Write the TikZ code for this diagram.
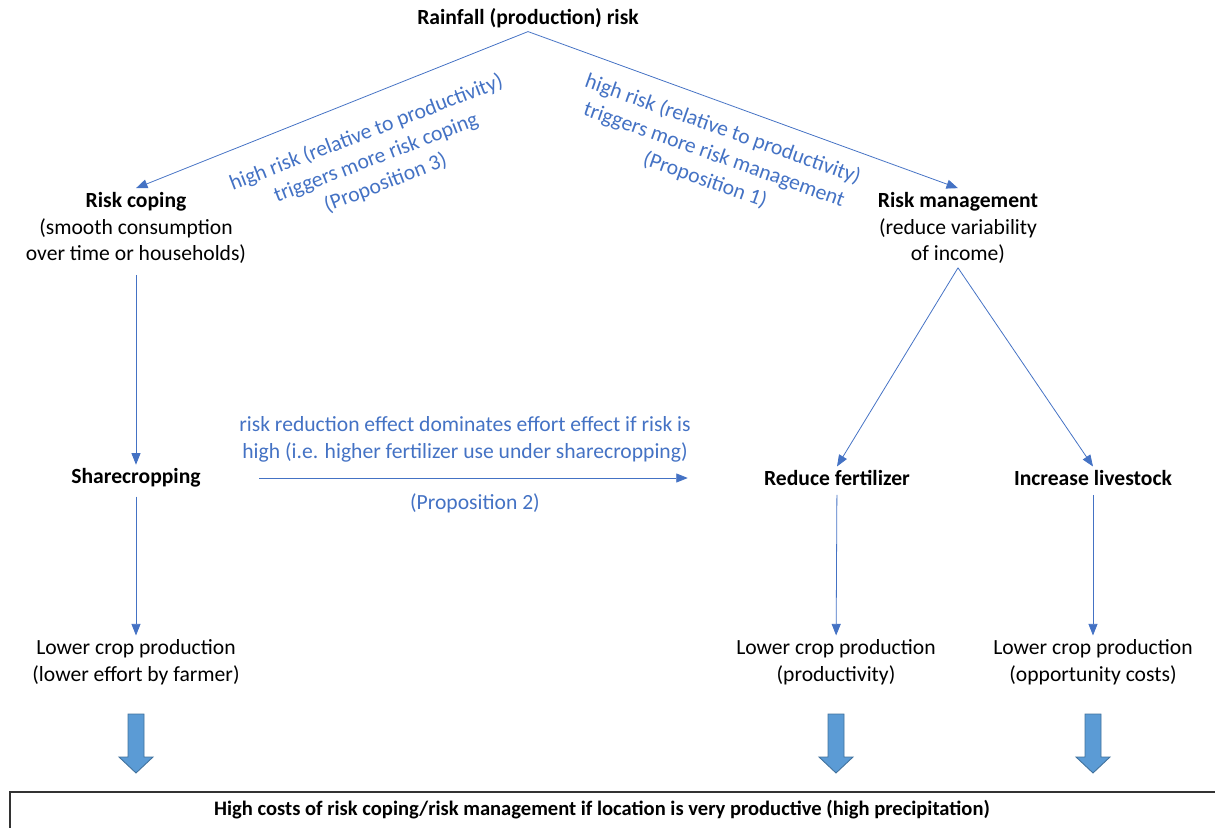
\documentclass[tikz,border=0pt]{standalone}
\usepackage{fontspec}
\setmainfont{Carlito}
\usepackage{tikz}
\usetikzlibrary{arrows.meta,positioning,calc}
\definecolor{cA}{HTML}{4472C4}
\definecolor{cE}{HTML}{5B9BD5}
\definecolor{cF}{HTML}{41719C}
\tikzset{
  txt/.style={align=center,inner sep=2pt,font=\fontsize{12.3}{15.3}\selectfont},
  head/.style={txt,font=\fontsize{12.3}{15.3}\selectfont\bfseries},
  lab/.style={txt,text=cA},
  flow/.style={-{Triangle[length=2.3mm,width=1.8mm]},cA,line width=0.45pt},
  bigarrow/.style={fill=cE,draw=cF,line width=0.5pt},
}

\begin{document}
\begin{tikzpicture}[x=0.02cm,y=-0.02cm]
  \useasboundingbox (0,0) rectangle (1215,828);
  % top level
  \node[head] (rain) at (528,18) {Rainfall (production) risk};
  \node[head] (coping) at (136,228) {Risk coping\\\normalfont(smooth consumption\\\normalfont over time or households)};
  \node[head] (manage) at (958,228) {Risk management\\\normalfont(reduce variability\\\normalfont of income)};
  \draw[flow] (rain.south) -- (coping.north);
  \draw[flow] (rain.south) -- (manage.north);
  \node[lab,rotate=21] (prop3) at (376,158)
    {high risk (relative to productivity)\\triggers more risk coping\\(Proposition 3)};
  \node[lab,rotate=-19.5] (prop1) at (714,155)
    {high risk (relative to productivity)\\triggers more risk management\\(Proposition 1)};
  % middle level
  \node[head] (share) at (136,478) {Sharecropping};
  \node[head] (fert) at (837,478) {Reduce fertilizer};
  \node[head] (live) at (1093,478) {Increase livestock};
  \draw[flow,shorten <=4pt] (coping) -- (share);
  \draw[flow] (manage.south) -- (fert.north);
  \draw[flow] (manage.south) -- (live.north);
  \draw[flow,shorten <=1.1cm,shorten >=1.45cm] (share) -- (fert);
  \node[lab] (eff) at (465,439)
    {risk reduction effect dominates effort effect if risk is\\high (i.e. higher fertilizer use under sharecropping)};
  \node[lab] (prop2) at (475,503) {(Proposition 2)};
  % lower level
  \node[txt] (low1) at (136,662) {Lower crop production\\(lower effort by farmer)};
  \node[txt] (low2) at (836,662) {Lower crop production\\(productivity)};
  \node[txt] (low3) at (1093,662) {Lower crop production\\(opportunity costs)};
  \draw[flow,shorten <=3pt] (share) -- (low1);
  \draw[flow,shorten <=3pt] (fert) -- (low2);
  \draw[flow,shorten <=3pt] (live) -- (low3);
  % block arrows and bottom box
  \foreach \n in {low1,low2,low3}
    \draw[bigarrow] (\n |- 0,714) ++(-8,0) -- ++(0,43) -- ++(-9,0) -- ++(17,16)
      -- ++(17,-16) -- ++(-9,0) -- ++(0,-43) -- cycle;
  \draw[line width=1pt,black!80] (1240,792) -| (10,850);
  \node[head,font=\fontsize{11.7}{14}\selectfont\bfseries] (costs) at (602,810)
    {High costs of risk coping/risk management if location is very productive (high precipitation)};
\end{tikzpicture}
\end{document}
